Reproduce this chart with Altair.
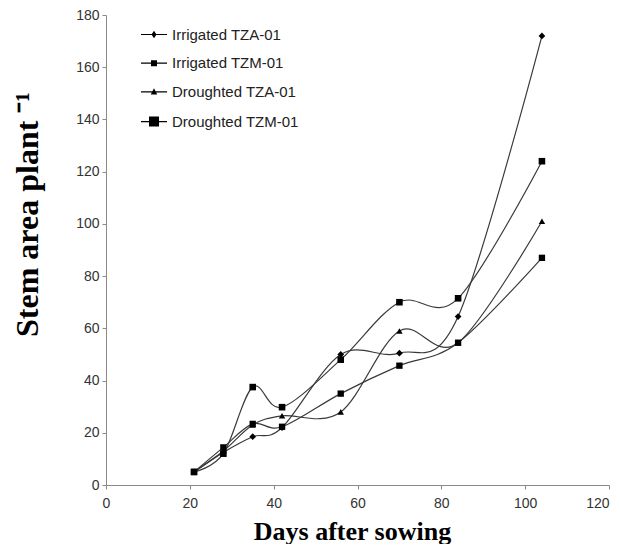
import altair as alt
import pandas as pd

days = [21, 28, 35, 42, 56, 70, 84, 104]
series_names = ["Irrigated TZA-01", "Irrigated TZM-01", "Droughted TZA-01", "Droughted TZM-01"]
irrigated_tza = [5, 12.5, 18.5, 22, 50, 50.5, 64.5, 172]
irrigated_tzm = [5, 12, 37.5, 29.8, 48, 70, 71.5, 124]
droughted_tza = [5, 13, 23, 26.5, 28, 59, 54.5, 101]
droughted_tzm = [5, 14.4, 23.4, 22.3, 35, 45.7, 54.5, 87]

x_ticks = [0, 20, 40, 60, 80, 100, 120]
y_ticks = [0, 20, 40, 60, 80, 100, 120, 140, 160, 180]

all_values = [irrigated_tza, irrigated_tzm, droughted_tza, droughted_tzm]
rows = []
for name, vals in zip(series_names, all_values):
    for d, v in zip(days, vals):
        rows.append({"series": name, "day": d, "value": v})
df = pd.DataFrame(rows)

marker_shapes = ["diamond", "square", "triangle-up", "square"]
marker_sizes = [45, 40, 45, 100]
seg = "M-2.6,-0.12H2.6V0.12H-2.6Z"
legend_paths = [
    seg + "M0,-0.75L0.5,0L0,0.75L-0.5,0Z",
    seg + "M-0.6,-0.6H0.6V0.6H-0.6Z",
    seg + "M0,-0.75L0.65,0.5H-0.65Z",
    seg + "M-1,-1H1V1H-1Z",
]

x_enc = alt.X(
    "day:Q",
    scale=alt.Scale(domain=[0, 120], nice=False, zero=False),
    axis=alt.Axis(
        values=x_ticks,
        title="Days after sowing",
        titleFontSize=26,
        titleBaseline="alphabetic",
        titleY=54,
        titleX=246,
        tickSize=4,
        labelPadding=7,
        labelFlush=False,
        labelAlign=alt.condition("datum.value == 120", alt.value("right"), alt.value("center")),
    ),
)
y_enc = alt.Y(
    "value:Q",
    scale=alt.Scale(domain=[0, 180], nice=False),
    axis=alt.Axis(
        values=y_ticks,
        title="Stem area plant ⁻¹",
        titleFontSize=32,
        titleAngle=270,
        titleBaseline="middle",
        titleAlign="center",
        titleX=-79,
        titleY=199,
        tickSize=4,
        labelPadding=3,
        labelFlush=False,
    ),
)

lines = alt.Chart(df).mark_line(
    interpolate="cardinal", color="#3a3a3a", strokeWidth=1.2
).encode(x=x_enc, y=y_enc, detail="series:N")

points = alt.Chart(df).mark_point(filled=True, color="black", opacity=1).encode(
    x=x_enc,
    y=y_enc,
    shape=alt.Shape("series:N", scale=alt.Scale(domain=series_names, range=marker_shapes), legend=None),
    size=alt.Size("series:N", scale=alt.Scale(domain=series_names, range=marker_sizes), legend=None),
)

legend_layer = alt.Chart(df).transform_filter("false").mark_point(
    filled=True, color="black", size=100, opacity=1
).encode(
    x=x_enc,
    y=y_enc,
    shape=alt.Shape(
        "series:N",
        scale=alt.Scale(domain=series_names, range=legend_paths),
        legend=alt.Legend(
            title=None,
            orient="none",
            legendX=40.5,
            legendY=12,
            symbolSize=100,
            symbolFillColor="black",
            symbolOpacity=1,
            labelFont="Liberation Sans",
            labelFontSize=15,
            labelColor="#222",
            labelOffset=10.5,
            rowPadding=12.7,
            padding=0,
        ),
    ),
)

chart = (
    alt.layer(lines, points, legend_layer)
    .resolve_scale(shape="independent", size="independent")
    .properties(
        width=503,
        height=470,
        autosize=alt.AutoSizeParams(type="none"),
        padding={"left": 98, "top": 7, "right": 3, "bottom": 59},
        background="white",
    )
    .configure_view(stroke=None)
    .configure_axis(
        grid=False,
        domainColor="#8a8a8a",
        tickColor="#8a8a8a",
        labelColor="#333",
        labelFont="Liberation Sans",
        labelFontSize=14,
        titleFont="Liberation Serif, Times New Roman",
        titleFontWeight="bold",
        titleColor="black",
    )
)

chart.save("out.html", embed_options={"renderer": "svg", "actions": False})
